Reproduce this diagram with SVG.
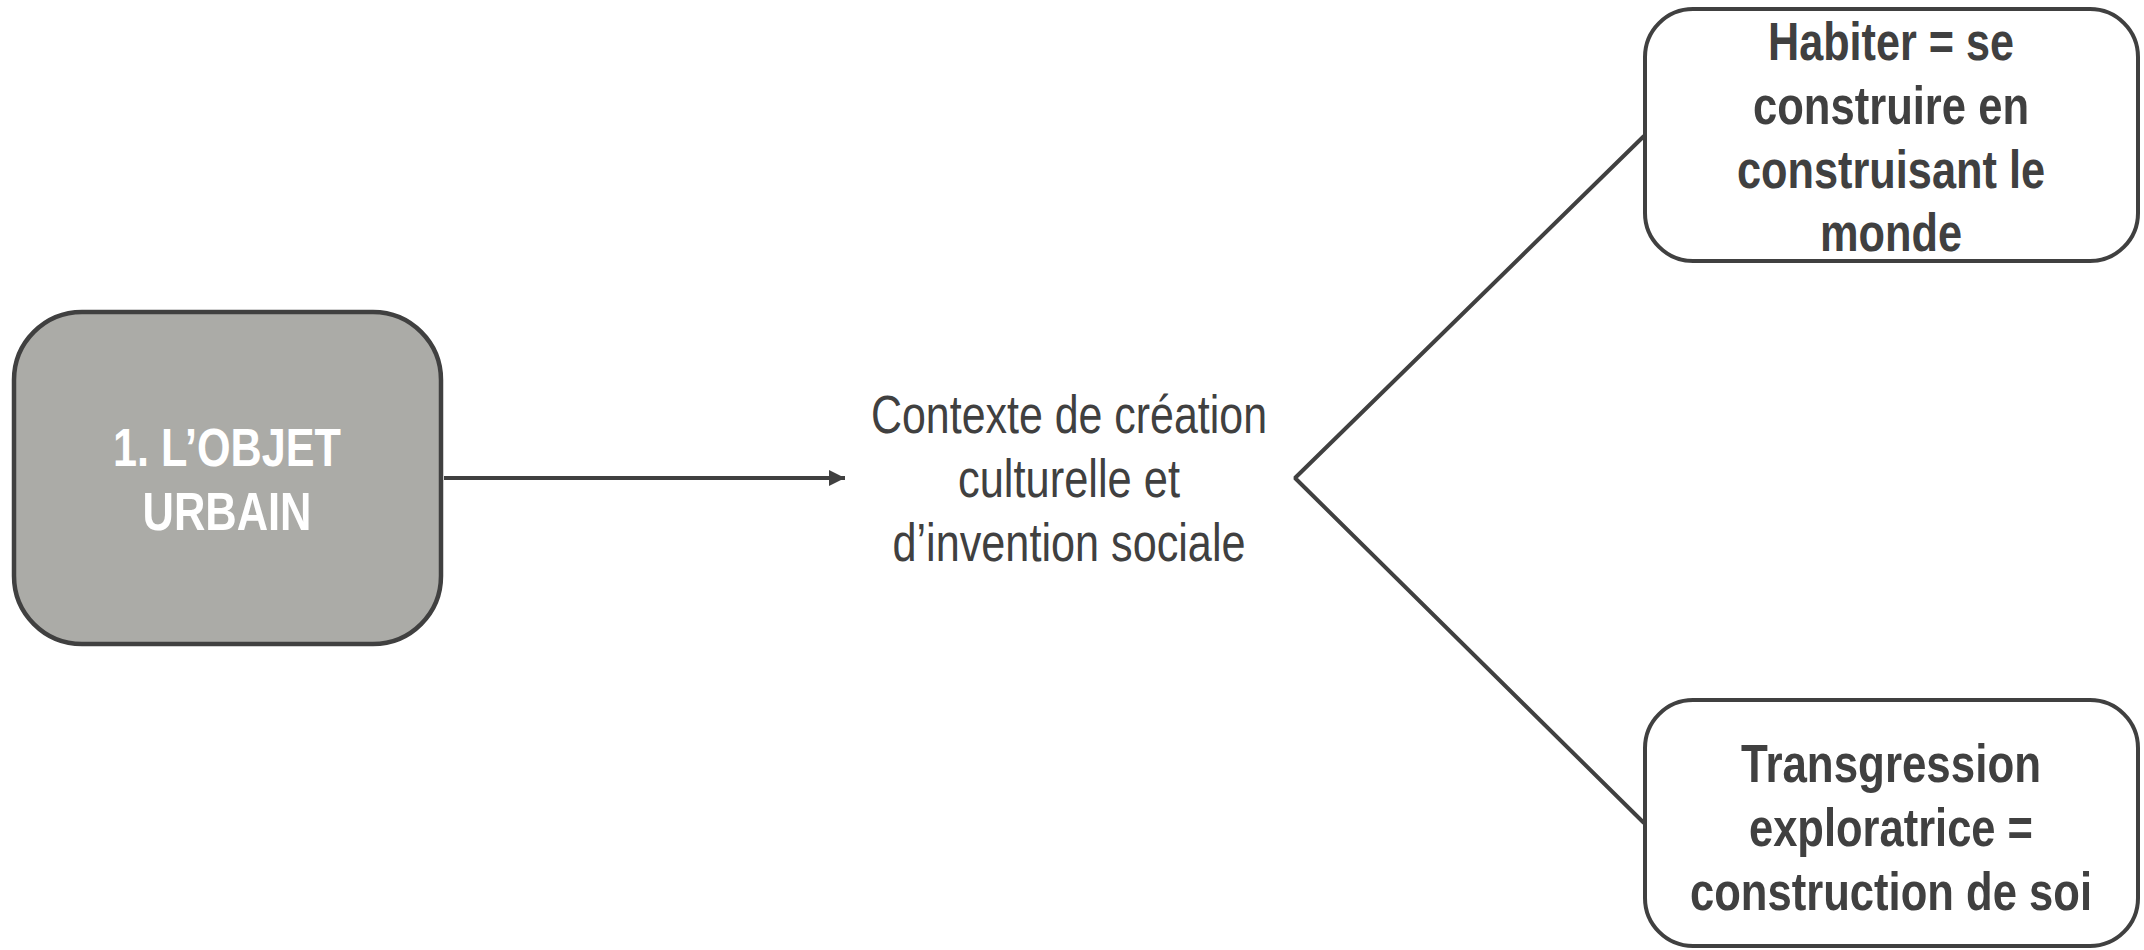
<svg xmlns="http://www.w3.org/2000/svg" width="2144" height="950" viewBox="0 0 2144 950">
<style>
.box{fill:#ffffff;stroke:#404040;stroke-width:4}
.main{fill:#ABABA7;stroke:#404040;stroke-width:4.5}
.t{font-family:"Liberation Sans Narrow","Liberation Sans",Arial,sans-serif;font-size:53px;text-anchor:middle}
.b{font-weight:bold;fill:#404040}
.w{font-weight:bold;fill:#ffffff}
.r{fill:#404040}
.ln{fill:none;stroke:#404040;stroke-width:4;stroke-linejoin:bevel}
</style>
<defs>
<marker id="arr" markerWidth="16" markerHeight="16" refX="16" refY="8" orient="auto" markerUnits="userSpaceOnUse">
<path d="M0,0 L16,8 L0,16 z" fill="#404040"/>
</marker>
</defs>
<rect width="2144" height="950" fill="#ffffff"/>
<g id="connectors">
<line class="ln" x1="444" y1="478" x2="845" y2="478" stroke-width="3" marker-end="url(#arr)"/>
<polyline class="ln" points="1644,136 1295,478 1644,823"/>
</g>
<g id="node-objet">
<rect class="main" x="14" y="312" width="427" height="332" rx="68" ry="68"/>
<text class="t w" x="227" y="466" textLength="228" lengthAdjust="spacingAndGlyphs">1. L’OBJET</text>
<text class="t w" x="227" y="530" textLength="169" lengthAdjust="spacingAndGlyphs">URBAIN</text>
</g>
<g id="node-contexte">
<text class="t r" x="1069" y="433" textLength="396" lengthAdjust="spacingAndGlyphs">Contexte de création</text>
<text class="t r" x="1069" y="497" textLength="222" lengthAdjust="spacingAndGlyphs">culturelle et</text>
<text class="t r" x="1069" y="561" textLength="353" lengthAdjust="spacingAndGlyphs">d’invention sociale</text>
</g>
<g id="node-habiter">
<rect class="box" x="1645" y="9" width="493" height="252" rx="48" ry="48"/>
<text class="t b" x="1891" y="60" textLength="246" lengthAdjust="spacingAndGlyphs">Habiter = se</text>
<text class="t b" x="1891" y="124" textLength="276" lengthAdjust="spacingAndGlyphs">construire en</text>
<text class="t b" x="1891" y="188" textLength="308" lengthAdjust="spacingAndGlyphs">construisant le</text>
<text class="t b" x="1891" y="251" textLength="142" lengthAdjust="spacingAndGlyphs">monde</text>
</g>
<g id="node-transgression">
<rect class="box" x="1645" y="700" width="493" height="246" rx="48" ry="48"/>
<text class="t b" x="1891" y="782" textLength="300" lengthAdjust="spacingAndGlyphs">Transgression</text>
<text class="t b" x="1891" y="846" textLength="284" lengthAdjust="spacingAndGlyphs">exploratrice =</text>
<text class="t b" x="1891" y="910" textLength="402" lengthAdjust="spacingAndGlyphs">construction de soi</text>
</g>
</svg>
